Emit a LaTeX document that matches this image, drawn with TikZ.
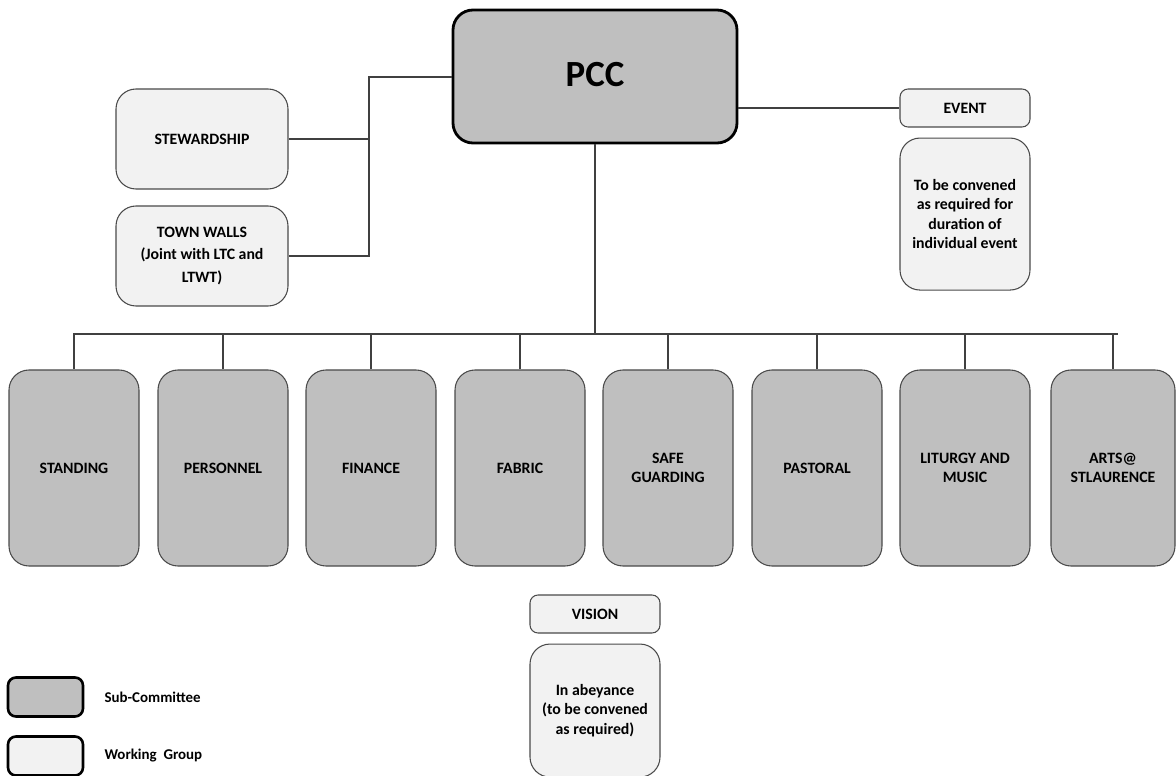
\documentclass[tikz,border=0pt]{standalone}
\usepackage{fontspec}
\setmainfont{Carlito}
\usetikzlibrary{positioning}
\definecolor{subgray}{HTML}{BFBFBF}
\definecolor{wgfill}{HTML}{F2F2F2}
\definecolor{edgegray}{HTML}{4A4A4A}
\pgfmathsetmacro{\pxlen}{0.02cm}
\pgfmathsetmacro{\bigrad}{20*\pxlen}
\pgfmathsetmacro{\smallrad}{8*\pxlen}
\pgfmathsetmacro{\notegap}{10*\pxlen}
\pgfmathsetmacro{\keygap}{14*\pxlen}
\tikzset{
  box/.style={rectangle, draw=edgegray, line width=0.6pt, inner sep=0pt,
    align=center, font=\bfseries\fontsize{9}{11}\selectfont},
  subcom/.style={box, fill=subgray, rounded corners=\bigrad,
    minimum width=130*\pxlen, minimum height=196*\pxlen},
  workgrp/.style={box, fill=wgfill, rounded corners=\bigrad,
    minimum width=172*\pxlen, minimum height=100*\pxlen},
  tag/.style={box, fill=wgfill, rounded corners=\smallrad,
    minimum width=130*\pxlen, minimum height=38*\pxlen},
  note/.style={box, fill=wgfill, rounded corners=\bigrad,
    minimum width=130*\pxlen},
  keybox/.style={box, draw=black, line width=1.5pt, rounded corners=\smallrad,
    minimum width=75*\pxlen, minimum height=39*\pxlen},
  link/.style={draw=black!75, line width=0.7pt},
}

\begin{document}
\begin{tikzpicture}[x=0.02cm, y=-0.02cm]
    \useasboundingbox (0,0) rectangle (1176,776);
    % define boxes
    % top
    \node[box, fill=subgray, draw=black, line width=1.6pt, rounded corners=\bigrad,
      minimum width=284*\pxlen, minimum height=133*\pxlen,
      font=\bfseries\fontsize{21}{25}\selectfont] (pcc) at (595,76.5) {\raisebox{2pt}{PCC}};
    \node[workgrp] (stewardship) at (202,139) {STEWARDSHIP};
    \node[workgrp, font=\bfseries\fontsize{9}{12.6}\selectfont] (townwalls) at (202,256)
      {TOWN WALLS\\(Joint with LTC and\\LTWT)};
    \node[tag] (event) at (965,108) {EVENT};
    \node[note, minimum height=152*\pxlen, below=\notegap pt of event] (eventnote)
      {To be convened\\as required for\\duration of\\individual event};
    % sub-committees
    \node[subcom] (standing) at (74,468) {STANDING};
    \node[subcom] (personnel) at (223,468) {PERSONNEL};
    \node[subcom] (finance) at (371,468) {FINANCE};
    \node[subcom] (fabric) at (520,468) {FABRIC};
    \node[subcom] (safeguarding) at (668,468) {SAFE\\GUARDING};
    \node[subcom] (pastoral) at (817,468) {PASTORAL};
    \node[subcom] (liturgy) at (965,468) {LITURGY AND\\MUSIC};
    \node[subcom, minimum width=124*\pxlen] (arts) at (1113,468) {ARTS@\\STLAURENCE};
    % vision
    \node[tag] (vision) at (595,614) {VISION};
    \node[note, minimum height=133*\pxlen, below=\notegap pt of vision] (visionnote)
      {In abeyance\\(to be convened\\as required)};
    % bus and bracket points
    \coordinate (busleft) at (73,334);
    \coordinate (busright) at (1118,334);
    \coordinate (bracket) at (369,77);
    % draw links
    \draw[link] (busleft) -- (busright);
    \draw[link] (pcc.south) -- (pcc.south |- busleft);
    \foreach \sc in {standing, personnel, finance, fabric, safeguarding, pastoral, liturgy, arts}
        \draw[link] (\sc.north) -- (\sc.north |- busleft);
    \draw[link] (pcc.west |- bracket) -- (bracket) -- (bracket |- townwalls.east) -- (townwalls.east);
    \draw[link] (stewardship.east) -- (stewardship.east -| bracket);
    \draw[link] (pcc.east |- event.west) -- (event.west);
    % add legend
    \node[keybox, fill=subgray] (keysub) at (45.5,697) {};
    \node[keybox, fill=wgfill] (keywork) at (45.5,756) {};
    \node[right=\keygap pt of keysub, font=\bfseries\fontsize{8.5}{10}\selectfont] (keysubtext) {Sub-Committee};
    \node[right=\keygap pt of keywork, font=\bfseries\fontsize{8.5}{10}\selectfont] (keyworktext) {Working\ \ Group};
\end{tikzpicture}
\end{document}
